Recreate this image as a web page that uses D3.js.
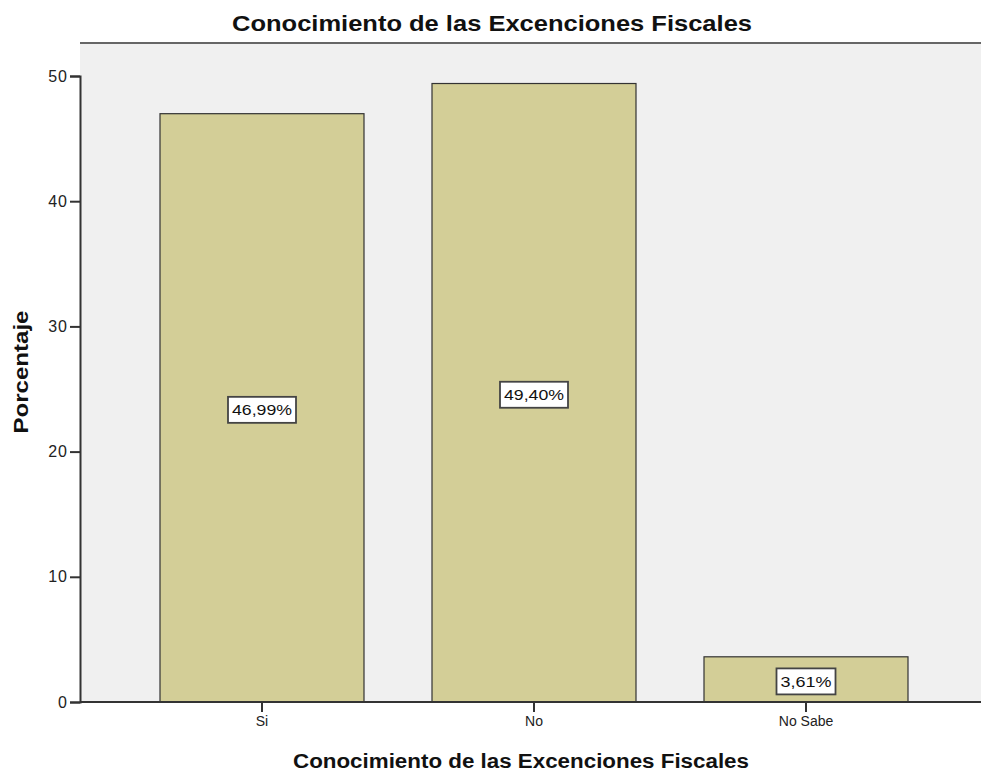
<!DOCTYPE html>
<html>
<head>
<meta charset="utf-8">
<script src="https://cdn.jsdelivr.net/npm/d3@7"></script>
<style>
  body { margin: 0; background: #fff; }
  text { font-family: "Liberation Sans", Arial, sans-serif; }
</style>
</head>
<body>
<div id="chart"></div>
<script>
(function() {
    const categories = ["Si", "No", "No Sabe"]
    const percentages = [46.99, 49.40, 3.61]
    const yTicks = [0, 10, 20, 30, 40, 50]

    const width = 981, height = 774
    const plot = {left: 80, top: 43, right: 981, bottom: 702}

    const svg = d3.select("#chart")
      .append("svg")
        .attr("width", width)
        .attr("height", height)

    svg.append("rect")
      .attr("x", plot.left)
      .attr("y", plot.top)
      .attr("width", plot.right - plot.left)
      .attr("height", plot.bottom - plot.top)
      .attr("fill", "#f0f0f0")

    // top border of the plot area
    svg.append("line")
      .attr("x1", plot.left).attr("x2", plot.right)
      .attr("y1", plot.top).attr("y2", plot.top)
      .attr("stroke", "#666")
      .attr("stroke-width", 2)

    var x = d3.scaleBand()
      .domain(categories)
      .range([126, 942])
      .paddingInner(0.25)
      .paddingOuter(0.125)

    var y = d3.scaleLinear()
      .domain([0, 50])
      .range([plot.bottom, 76])

    const data = categories.map((c, i) => ({cat: c, value: percentages[i]}))

    svg.selectAll("rect.bar")
      .data(data)
      .join("rect")
        .attr("class", "bar")
        .attr("x", d => x(d.cat))
        .attr("y", d => y(d.value))
        .attr("width", x.bandwidth())
        .attr("height", d => y(0) - y(d.value))
        .attr("fill", "#d3ce97")
        .attr("stroke", "#333")
        .attr("stroke-width", 1.2)

    // value labels in white boxes
    const labels = svg.selectAll("g.lbl")
      .data(data)
      .join("g")
        .attr("class", "lbl")
        .attr("transform", d => "translate(" + (x(d.cat) + x.bandwidth() / 2) + "," + (y(d.value / 2) + 2) + ")")

    labels.append("text")
      .attr("text-anchor", "middle")
      .attr("dy", "0.36em")
      .attr("font-size", 15)
      .attr("fill", "#111")
      .attr("textLength", d => d.value >= 10 ? 60 : 51)
      .attr("lengthAdjust", "spacingAndGlyphs")
      .text(d => d.value.toFixed(2).replace(".", ",") + "%")

    labels.each(function(d) {
      const g = d3.select(this)
      const w = (d.value >= 10 ? 60 : 51) + 8
      g.insert("rect", "text")
        .attr("x", -w / 2)
        .attr("y", -13)
        .attr("width", w)
        .attr("height", 26)
        .attr("fill", "#fff")
        .attr("stroke", "#444")
        .attr("stroke-width", 1.8)
    })

    // y axis
    const yAxis = svg.append("g")
      .attr("transform", "translate(" + plot.left + ",0)")
      .call(d3.axisLeft(y).tickValues(yTicks).tickSize(10).tickPadding(2))
    yAxis.select(".domain").attr("stroke", "#333").attr("stroke-width", 2)
    yAxis.selectAll(".tick line").attr("stroke", "#333").attr("stroke-width", 2)
    yAxis.selectAll(".tick text")
      .attr("font-size", 16).attr("fill", "#222")
      .attr("letter-spacing", 1)
      .attr("font-family", "'Liberation Sans', Arial, sans-serif")

    // x axis
    const xAxis = svg.append("g")
      .attr("transform", "translate(0," + plot.bottom + ")")
      .call(d3.axisBottom(x).tickSize(10).tickPadding(4))
    xAxis.select(".domain").remove()
    xAxis.append("line")
      .attr("x1", plot.left).attr("x2", plot.right)
      .attr("stroke", "#333").attr("stroke-width", 2)
    xAxis.selectAll(".tick line").attr("stroke", "#333").attr("stroke-width", 2)
    xAxis.selectAll(".tick text")
      .attr("font-size", 14).attr("fill", "#222")
      .attr("font-family", "'Liberation Sans', Arial, sans-serif")

    // titles
    svg.append("text")
      .attr("x", 492).attr("y", 31)
      .attr("text-anchor", "middle")
      .attr("font-size", 22)
      .attr("font-weight", "bold")
      .attr("fill", "#111")
      .attr("textLength", 520)
      .attr("lengthAdjust", "spacingAndGlyphs")
      .text("Conocimiento de las Excenciones Fiscales")

    svg.append("text")
      .attr("x", 521).attr("y", 768)
      .attr("text-anchor", "middle")
      .attr("font-size", 20)
      .attr("font-weight", "bold")
      .attr("fill", "#111")
      .attr("textLength", 456)
      .attr("lengthAdjust", "spacingAndGlyphs")
      .text("Conocimiento de las Excenciones Fiscales")

    svg.append("text")
      .attr("transform", "translate(28,372) rotate(-90)")
      .attr("text-anchor", "middle")
      .attr("font-size", 20)
      .attr("font-weight", "bold")
      .attr("fill", "#111")
      .attr("textLength", 123)
      .attr("lengthAdjust", "spacingAndGlyphs")
      .text("Porcentaje")
})()
</script>
</body>
</html>
